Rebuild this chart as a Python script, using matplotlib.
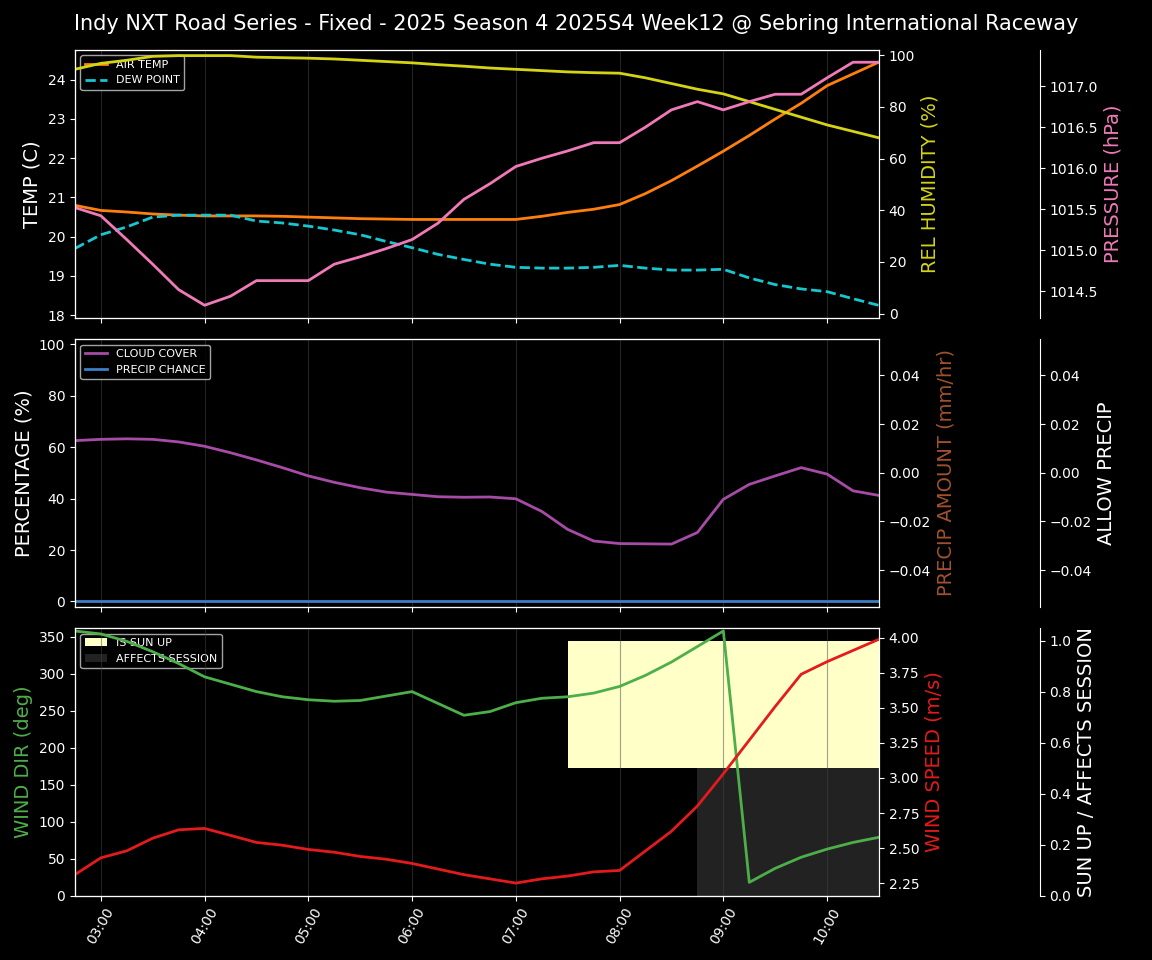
import matplotlib
matplotlib.use("Agg")
import matplotlib.pyplot as plt
import matplotlib.dates as mdates
import pandas as pd

plt.style.use("dark_background")

times = pd.date_range("2025-01-01 02:45", "2025-01-01 10:30", freq="15min")

air_temp = [20.8, 20.67, 20.63, 20.58, 20.55, 20.53, 20.53, 20.53, 20.52, 20.5, 20.48, 20.46,
            20.45, 20.44, 20.44, 20.44, 20.44, 20.44, 20.52, 20.62, 20.7, 20.82, 21.1, 21.43,
            21.8, 22.18, 22.58, 23.0, 23.4, 23.85, 24.15, 24.45]
dew_point = [19.7, 20.05, 20.25, 20.5, 20.55, 20.55, 20.55, 20.4, 20.35, 20.27, 20.17, 20.05,
             19.88, 19.72, 19.55, 19.42, 19.3, 19.22, 19.2, 19.2, 19.22, 19.27, 19.2, 19.15,
             19.15, 19.17, 18.95, 18.78, 18.67, 18.6, 18.42, 18.25]
humidity = [94.5, 96.8, 98, 99.5, 99.8, 99.8, 99.8, 99.2, 99, 98.8, 98.5, 98, 97.5, 97, 96.3,
            95.7, 95, 94.5, 94, 93.5, 93.2, 93, 91.2, 89, 86.8, 85, 82, 79, 76, 73, 70.5, 68]
pressure = [1015.52, 1015.42, 1015.13, 1014.83, 1014.52, 1014.33, 1014.44, 1014.63, 1014.63,
            1014.63, 1014.83, 1014.92, 1015.02, 1015.13, 1015.33, 1015.62, 1015.81, 1016.02,
            1016.12, 1016.21, 1016.31, 1016.31, 1016.5, 1016.71, 1016.81, 1016.71, 1016.81,
            1016.9, 1016.9, 1017.1, 1017.29, 1017.29]
cloud_cover = [62.5, 63, 63.2, 63, 62, 60.3, 57.8, 55, 52, 48.8, 46.3, 44.2, 42.5, 41.6, 40.7,
               40.5, 40.6, 39.9, 35, 28, 23.5, 22.5, 22.4, 22.3, 26.8, 39.7, 45.5, 48.8, 52,
               49.5, 43, 41.2]
precip_chance = [0] * 32
precip_amount = [0] * 32
allow_precip = [0] * 32
wind_dir = [358, 354, 344, 330, 314, 296, 286, 276, 269, 265, 263, 264, 270, 276, 260, 244,
            249, 261, 267, 269, 274, 283, 298, 316, 337, 358, 18, 37, 52, 63, 72, 79]
wind_speed = [2.31, 2.43, 2.48, 2.57, 2.63, 2.64, 2.59, 2.54, 2.52, 2.49, 2.47, 2.44, 2.42,
              2.39, 2.35, 2.31, 2.28, 2.25, 2.28, 2.30, 2.33, 2.34, 2.48, 2.62, 2.80, 3.03,
              3.27, 3.51, 3.74, 3.83, 3.91, 3.99]
is_sun_up = [0] * 19 + [1] * 13
affects_session = [0] * 24 + [1] * 8

fig, axes = plt.subplots(3, 1, figsize=(11.52, 9.6), dpi=100, sharex=True)
fig.subplots_adjust(left=0.065, right=0.763, top=0.948, bottom=0.067, hspace=0.08)
fig.suptitle("Indy NXT Road Series - Fixed - 2025 Season 4 2025S4 Week12 @ Sebring International Raceway",
             fontsize=15, y=0.985)

lab = 14


def third(ax):
    a = ax.twinx()
    a.spines["right"].set_position(("axes", 1.2))
    return a


# top panel
ax1 = axes[0]
ax1.plot(times, air_temp, color="#ff7f0e", lw=2, label="AIR TEMP")
ax1.plot(times, dew_point, color="#17c7d0", lw=2, ls="--", label="DEW POINT")
ax1.set_ylabel("TEMP (C)", fontsize=lab)
ax1.legend(loc="upper left", fontsize=8)
ax1b = ax1.twinx()
ax1b.plot(times, humidity, color="#d4d415", lw=2)
ax1b.set_ylabel("REL HUMIDITY (%)", color="#d4d415", fontsize=lab)
ax1b.set_ylim(-1.5, 102)
ax1c = third(ax1)
ax1c.plot(times, pressure, color="#f07ab8", lw=2)
ax1c.set_ylabel("PRESSURE (hPa)", color="#f07ab8", fontsize=lab)
ax1c.set_ylim(1014.18, 1017.44)

# middle panel
ax2 = axes[1]
ax2.plot(times, cloud_cover, color="#a64ca6", lw=2, label="CLOUD COVER")
ax2.plot(times, precip_chance, color="#3b7fc4", lw=2, label="PRECIP CHANCE")
ax2.set_ylim(-2, 102)
ax2.set_ylabel("PERCENTAGE (%)", fontsize=lab)
ax2.legend(loc="upper left", fontsize=8)
ax2b = ax2.twinx()
ax2b.plot(times, precip_amount, alpha=0)
ax2b.set_ylabel("PRECIP AMOUNT (mm/hr)", color="#a0522d", fontsize=lab)
ax2c = third(ax2)
ax2c.plot(times, allow_precip, alpha=0)
ax2c.set_ylabel("ALLOW PRECIP", fontsize=lab)

# bottom panel
ax3 = axes[2]
ax3c = third(ax3)
sun = [0.5 * s for s in is_sun_up]
ax3c.fill_between(times, [0.5 if s else 0 for s in is_sun_up], [1 if s else 0 for s in is_sun_up],
                  where=[bool(s) for s in is_sun_up], color="#ffffc8", step="post", lw=0, label="IS SUN UP")
ax3c.fill_between(times, 0, [0.5 if a else 0 for a in affects_session],
                  where=[bool(a) for a in affects_session], color="#222222", step="post", lw=0,
                  label="AFFECTS SESSION")
ax3c.set_ylim(0, 1.05)
ax3c.set_ylabel("SUN UP / AFFECTS SESSION", fontsize=lab)
ax3c.legend(loc="upper left", fontsize=8)
ax3.set_zorder(ax3c.get_zorder() + 1)
ax3.patch.set_visible(False)
ax3.plot(times, wind_dir, color="#4daf4a", lw=2)
ax3.set_ylim(0, 362)
ax3.set_ylabel("WIND DIR (deg)", color="#4daf4a", fontsize=lab)
ax3b = ax3.twinx()
ax3b.plot(times, wind_speed, color="#e41a1c", lw=2)
ax3b.set_ylim(2.16, 4.07)
ax3b.set_ylabel("WIND SPEED (m/s)", color="#e41a1c", fontsize=lab)

for ax in axes:
    ax.grid(axis="x", color="#444444", alpha=0.5)
    ax.set_xlim(times[0], times[-1])
ax3.xaxis.set_major_locator(mdates.HourLocator())
ax3.xaxis.set_major_formatter(mdates.DateFormatter("%H:%M"))
plt.setp(ax3.get_xticklabels(), rotation=60)

plt.savefig("out.png", dpi=100, facecolor="black")
